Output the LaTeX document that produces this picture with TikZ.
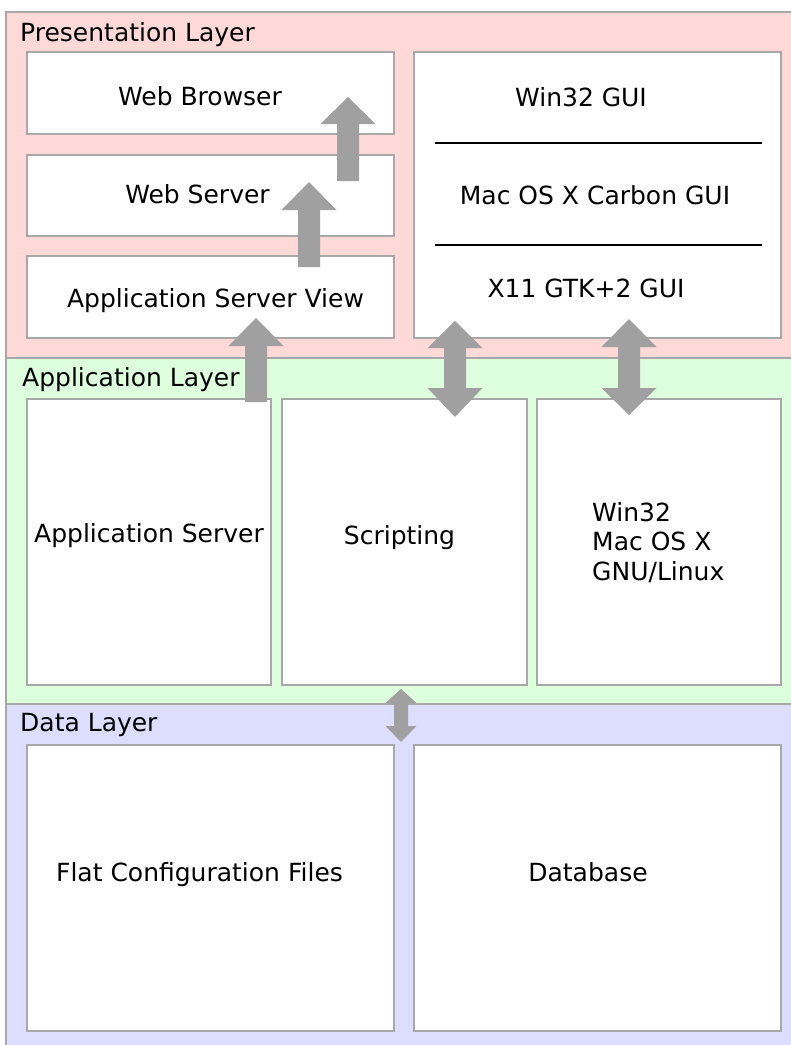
\documentclass[tikz,border=0pt]{standalone}
\usepackage{fontspec}
\setmainfont{DejaVu Sans}
\definecolor{bordergray}{RGB}{168,168,168}
\definecolor{arrowgray}{RGB}{160,160,160}
\definecolor{presfill}{RGB}{255,216,216}
\definecolor{applfill}{RGB}{221,255,221}
\definecolor{datafill}{RGB}{221,221,255}
\newcommand{\fatup}[4]{% center, bottom, head base, tip
  \fill[arrowgray] ({#1-11},#2) -- ({#1-11},#3) -- ({#1-27.5},#3) -- (#1,#4) -- ({#1+27.5},#3) -- ({#1+11},#3) -- ({#1+11},#2) -- cycle;}
\newcommand{\fatboth}[7]{% center, tip1, base1, base2, tip2, half head, half shaft
  \fill[arrowgray] (#1,#2) -- ({#1+#6},#3) -- ({#1+#7},#3) -- ({#1+#7},#4) -- ({#1+#6},#4) -- (#1,#5) -- ({#1-#6},#4) -- ({#1-#7},#4) -- ({#1-#7},#3) -- ({#1-#6},#3) -- cycle;}
\begin{document}
\begin{tikzpicture}[x=1pt,y=-1pt,
  layerbox/.style={draw=bordergray,line width=2pt},
  box/.style={draw=bordergray,line width=2pt,fill=white},
  sep/.style={draw=black,line width=2pt},
  lbl/.style={anchor=base west,inner sep=0pt,font=\fontsize{25}{29.5}\selectfont},
  txt/.style={anchor=base,inner sep=0pt,font=\fontsize{25}{29.5}\selectfont}]
\clip (0,0) rectangle (791,1045);
\fill[white] (0,0) rectangle (791,1045);
% layers
\draw[layerbox,fill=presfill] (6,12) rectangle (810,358);
\draw[layerbox,fill=applfill] (6,358) rectangle (810,704);
\draw[layerbox,fill=datafill] (6,704) rectangle (810,1070);
\node[lbl] (presl) at (20,41) {Presentation Layer};
\node[lbl] (appll) at (22,386) {Application Layer};
\node[lbl] (datal) at (20,731) {Data Layer};
% presentation boxes
\draw[box] (27,52) rectangle (394,134);
\draw[box] (27,155) rectangle (394,236);
\draw[box] (27,256) rectangle (394,338);
\draw[box] (414,52) rectangle (781,338);
\draw[sep] (435,143) -- (762,143);
\draw[sep] (435,245) -- (762,245);
\node[txt] (wb) at (200,105) {Web Browser};
\node[txt] (ws) at (197.5,203) {Web Server};
\node[txt] (asv) at (215.5,307) {Application Server View};
\node[txt] (w32) at (581,106) {Win32 GUI};
\node[txt] (mac) at (595,204) {Mac OS X Carbon GUI};
\node[txt] (x11) at (586,297) {X11 GTK+2 GUI};
% application boxes
\draw[box] (27,399) rectangle (271,685);
\draw[box] (282,399) rectangle (527,685);
\draw[box] (537,399) rectangle (781,685);
\node[txt] (as) at (149,542) {Application Server};
\node[txt] (sc) at (399.5,544) {Scripting};
\node[anchor=north west,inner sep=0pt,align=left,font=\fontsize{25}{29.5}\selectfont] (os) at (592,502) {Win32\\Mac OS X\\GNU/Linux};
% data boxes
\draw[box] (27,745) rectangle (394,1031);
\draw[box] (414,745) rectangle (781,1031);
\node[txt] (fc) at (199.5,881) {Flat Configuration Files};
\node[txt] (db) at (588,881) {Database};
% arrows
\fatup{256}{402}{346}{318}
\fatup{309}{267}{210}{182}
\fatup{348}{181}{124}{97}
\fatboth{455}{321}{348}{388}{417}{27.5}{11}
\fatboth{629}{319}{347}{388}{415}{27.5}{11}
\fatboth{401}{689}{703}{726}{742}{15.5}{7}
\end{tikzpicture}
\end{document}
